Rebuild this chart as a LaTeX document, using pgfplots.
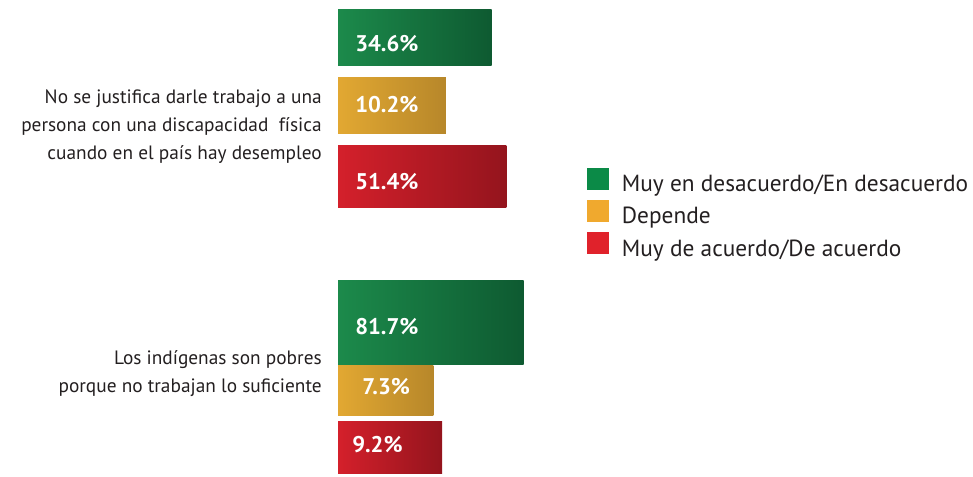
\documentclass[border=0pt]{standalone}
\usepackage{pgfplots}
\pgfplotsset{compat=1.18}
\usepackage{fontspec}
\setmainfont{PT Sans}
\definecolor{gL}{HTML}{1C8A4B}
\definecolor{gD}{HTML}{0E5A31}
\definecolor{oL}{HTML}{E2A832}
\definecolor{oD}{HTML}{B7872A}
\definecolor{rL}{HTML}{D4202B}
\definecolor{rD}{HTML}{94141D}
\definecolor{legG}{HTML}{0B8A47}
\definecolor{legO}{HTML}{F0A92E}
\definecolor{legR}{HTML}{E0222B}
\definecolor{txt}{HTML}{231F20}
\begin{document}
\begin{tikzpicture}
\path[use as bounding box] (0,0) rectangle (729.75pt,-357pt);
\begin{axis}[
  at={(253.5pt,0pt)}, anchor=north west,
  scale only axis, width=166.5pt, height=357pt,
  hide axis, clip=false,
  xmode=log, log origin x=infty,
  xmin=0.565, xmax=217, ymin=-476, ymax=0,
  legend style={at={(1.1216,0.648)}, anchor=north west, draw=none, fill=none,
    inner sep=0pt, row sep=2.5pt, font=\fontsize{17.5}{17.5}\selectfont,
    text=txt, nodes={inner sep=0pt, text height=12.5pt, text depth=4pt}},
  legend cell align=left,
]
\addlegendimage{draw=none, legend image code/.code={\fill[legG] (0pt,-3pt) rectangle (16.5pt,13.5pt);\path[draw=none] (0pt,0pt) -- (26pt,0pt);}}
\addlegendentry{Muy en desacuerdo/En desacuerdo}
\addlegendimage{draw=none, legend image code/.code={\fill[legO] (0pt,-3pt) rectangle (16.5pt,13.5pt);\path[draw=none] (0pt,0pt) -- (26pt,0pt);}}
\addlegendentry{Depende}
\addlegendimage{draw=none, legend image code/.code={\fill[legR] (0pt,-3pt) rectangle (16.5pt,13.5pt);\path[draw=none] (0pt,0pt) -- (26pt,0pt);}}
\addlegendentry{Muy de acuerdo/De acuerdo}
% group 1
\addplot[xbar, bar shift=0pt, bar width=42pt, draw=none, left color=gL, right color=gD, forget plot] coordinates {(34.6,-37)};
\addplot[xbar, bar shift=0pt, bar width=42pt, draw=none, left color=oL, right color=oD, forget plot] coordinates {(10.2,-105)};
\addplot[xbar, bar shift=0pt, bar width=46.5pt, draw=none, left color=rL, right color=rD, forget plot] coordinates {(51.4,-176)};
% group 2
\addplot[xbar, bar shift=0pt, bar width=63pt, draw=none, left color=gL, right color=gD, forget plot] coordinates {(81.7,-322)};
\addplot[xbar, bar shift=0pt, bar width=37.5pt, draw=none, left color=oL, right color=oD, forget plot] coordinates {(7.3,-390)};
\addplot[xbar, bar shift=0pt, bar width=39pt, draw=none, left color=rL, right color=rD, forget plot] coordinates {(9.2,-447)};
\tikzset{bl/.style={anchor=west, text=white, inner sep=0pt, font=\bfseries\fontsize{17}{17}\selectfont}}
\node[bl] at (axis cs:0.891,-44) {34.6\%};
\node[bl] at (axis cs:0.891,-105) {10.2\%};
\node[bl] at (axis cs:0.891,-182) {51.4\%};
\node[bl] at (axis cs:0.891,-327) {81.7\%};
\node[bl] at (axis cs:1.075,-387) {7.3\%};
\node[bl] at (axis cs:0.822,-445) {9.2\%};
\end{axis}
\node[anchor=east, align=right, inner sep=0pt, text=txt, font=\fontsize{14.5}{21}\selectfont] at (241.5pt,-95.25pt)
  {No se justifica darle trabajo a una\\persona con una discapacidad\ \ física\\cuando en el país hay desempleo};
\node[anchor=east, align=right, inner sep=0pt, text=txt, font=\fontsize{14.5}{21}\selectfont] at (241.5pt,-280.5pt)
  {Los indígenas son pobres\\porque no trabajan lo suficiente};
\end{tikzpicture}
\end{document}
